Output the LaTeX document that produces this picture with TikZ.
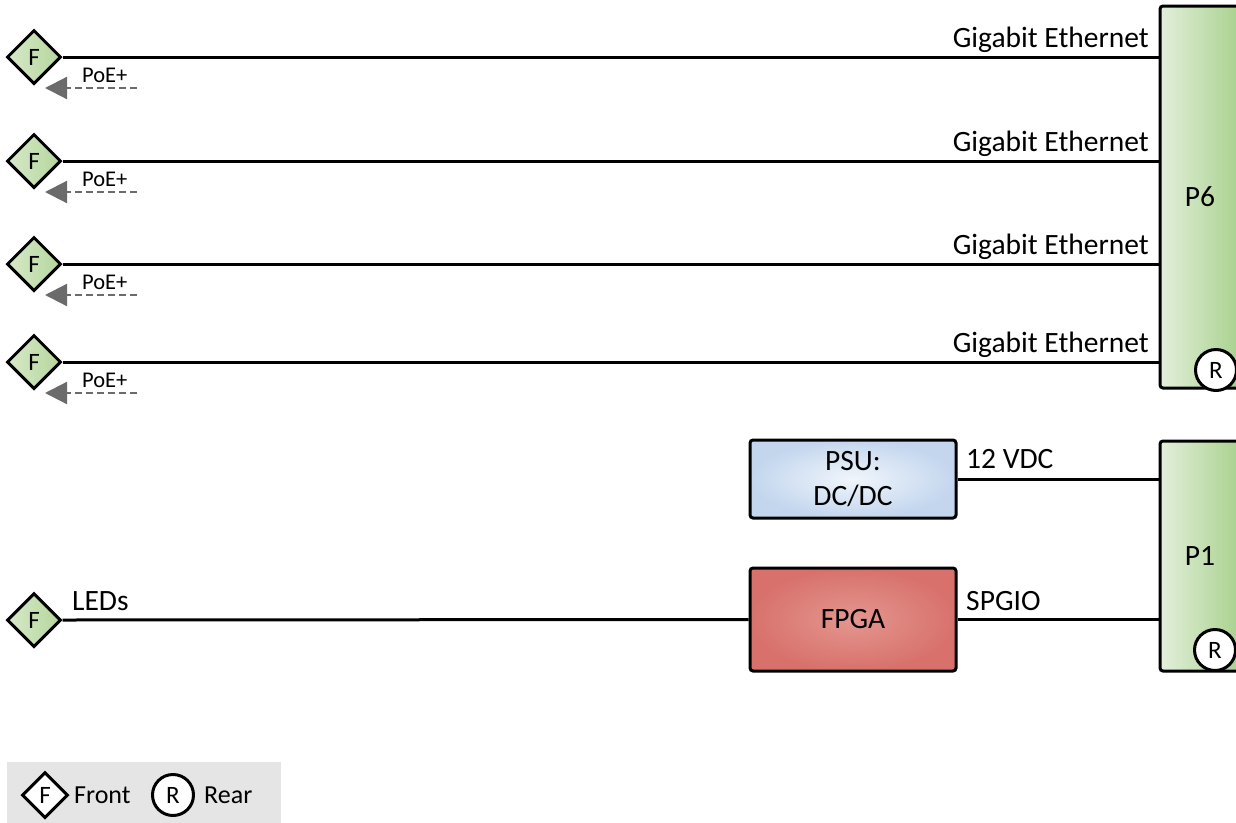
\documentclass[tikz,border=0pt]{standalone}
\usepackage{fontspec}
\setmainfont{Carlito}
\usetikzlibrary{shapes.geometric,arrows.meta}
\definecolor{gL}{HTML}{E3EFDB}
\definecolor{gD}{HTML}{A9D18E}
\definecolor{dL}{HTML}{D6E9C8}
\definecolor{dD}{HTML}{B5D69C}
\definecolor{bIn}{HTML}{F0F5FB}
\definecolor{bOut}{HTML}{C3D6EE}
\definecolor{rIn}{HTML}{E4968F}
\definecolor{rOut}{HTML}{D8716C}
\definecolor{arrg}{HTML}{6B6B6B}
\definecolor{legbg}{HTML}{E5E5E5}
\newcommand\fMain{\fontsize{29.5}{35}\selectfont}
\newcommand\fPoe{\fontsize{22.5}{26}\selectfont}
\newcommand\fLeg{\fontsize{26}{31}\selectfont}
\newcommand\fLet{\fontsize{25}{29}\selectfont}
\begin{document}
\begin{tikzpicture}[x=1pt,y=-1pt,
  port/.style={draw, line width=3pt, rounded corners=3pt, left color=gL, right color=gD, minimum width=80pt, inner sep=0pt, font=\fMain},
  front/.style={diamond, draw, line width=3pt, minimum width=54pt, minimum height=54pt, inner sep=0pt, left color=dL, right color=dD, font=\fLet},
  rear/.style={circle, draw, line width=3pt, fill=white, minimum size=41pt, inner sep=0pt, font=\fLet},
  wire/.style={line width=3pt},
  poe/.style={draw=arrg, line width=2.2pt, dash pattern=on 7pt off 4pt, -{Triangle[length=22pt,width=22pt]}},
  poelbl/.style={anchor=base west, inner sep=0pt, font=\fPoe},
  lbl/.style={inner sep=0pt, font=\fMain},
  blk/.style={draw, line width=3pt, rounded corners=3pt, minimum width=206pt, inner sep=0pt, font=\fMain, align=center}
]
\useasboundingbox (0,0) rectangle (1236,822);
\clip (0,0) rectangle (1236,822);

% connectors P6 and P1
\node[port, minimum height=382pt] (p6) at (1200,197) {P6};
\node[rear] (r6) at (1216,370) {R};
\node[port, minimum height=230pt] (p1) at (1200,556) {P1};
\node[rear] (r1) at (1215,650) {R};

% front ports
\foreach \i/\y in {1/57,2/161,3/264,4/362}{
  \node[front] (f\i) at (34,\y) {F};
  \draw[wire] (f\i.east) -- (f\i.east -| p6.west);
  \node[lbl, anchor=base east] (ge\i) at (1149,\y-10) {Gigabit Ethernet};
  \coordinate (ps\i) at (137,\y+31);
  \coordinate (pe\i) at (45,\y+31);
  \draw[poe] (ps\i) -- (pe\i);
  \node[poelbl] (pl\i) at (82,\y+25) {PoE+};
}

% PSU and FPGA
\node[blk, minimum height=78pt, inner color=bIn, outer color=bOut] (psu) at (853,479) {PSU:\\DC/DC};
\node[blk, minimum height=103pt, inner color=rIn, outer color=rOut] (fpga) at (853,619.5) {FPGA};
\draw[wire] (psu.east) -- (psu.east -| p1.west);
\node[lbl, anchor=base west] (l12) at (966,468) {12 VDC};
\draw[wire] (fpga.east) -- (fpga.east -| p1.west);
\node[lbl, anchor=base west] (lsp) at (966,610) {SPGIO};

\node[front] (f5) at (34,620) {F};
\draw[wire] (f5.east) -- (fpga.west);
\node[lbl, anchor=base west] (lled) at (72,610) {LEDs};

% legend
\node[fill=legbg, minimum width=274pt, minimum height=70pt, inner sep=0pt, anchor=north west] (leg) at (7,762) {};
\node[diamond, draw, line width=3pt, fill=white, minimum width=46pt, minimum height=46pt, inner sep=0pt, font=\fLet] (lf) at (45,795) {F};
\node[inner sep=0pt, anchor=base west, font=\fLeg] (lft) at (74,803) {Front};
\node[rear] (lr) at (173,795) {R};
\node[inner sep=0pt, anchor=base west, font=\fLeg] (lrt) at (204,803) {Rear};
\end{tikzpicture}
\end{document}
